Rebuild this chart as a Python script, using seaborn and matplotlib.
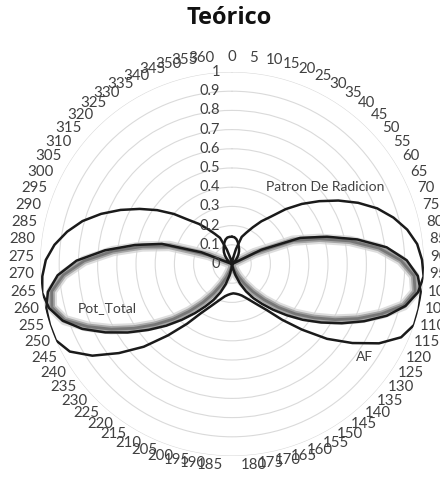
import numpy as np
import pandas as pd
import matplotlib
matplotlib.use("Agg")
import matplotlib.pyplot as plt
import seaborn as sns

# Category labels (degrees) of the radar chart, 0..360 every 5
angulos = list(range(0, 361, 5))

patron = [0, 0.005, 0.03, 0.08, 0.15, 0.18, 0.22, 0.27, 0.32, 0.40, 0.48, 0.56, 0.645,
          0.73, 0.81, 0.875, 0.93, 0.97, 0.99, 1.0, 0.98, 0.93, 0.85, 0.75, 0.65, 0.555,
          0.47, 0.39, 0.32, 0.26, 0.21, 0.16, 0.11, 0.06, 0.025, 0.005, 0,
          0.005, 0.025, 0.06, 0.11, 0.16, 0.21, 0.26, 0.32, 0.39, 0.47, 0.555, 0.65, 0.75,
          0.85, 0.93, 0.98, 1.0, 0.99, 0.97, 0.93, 0.875, 0.81, 0.73, 0.645, 0.56, 0.48,
          0.40, 0.32, 0.27, 0.22, 0.18, 0.15, 0.08, 0.03, 0.005, 0]

af = [0.142, 0.140, 0.132, 0.118, 0.102, 0.088, 0.074, 0.058, 0.042, 0.028, 0.016, 0.006,
      0.0, 0.17, 0.38, 0.515, 0.665, 0.81, 0.91, 0.97, 0.995, 1.0, 1.0, 0.96, 0.87, 0.75,
      0.63, 0.50, 0.39, 0.30, 0.25, 0.215, 0.19, 0.172, 0.162, 0.156, 0.153,
      0.156, 0.162, 0.172, 0.19, 0.215, 0.25, 0.30, 0.39, 0.50, 0.63, 0.75, 0.87, 0.96,
      1.0, 1.0, 0.995, 0.97, 0.91, 0.81, 0.665, 0.515, 0.38, 0.17, 0.0, 0.006, 0.016,
      0.028, 0.042, 0.058, 0.074, 0.088, 0.102, 0.118, 0.132, 0.140, 0.142]

pot_total = [0, 0, 0, 0, 0, 0, 0, 0, 0, 0, 0, 0, 0,
             0.13, 0.34, 0.475, 0.625, 0.77, 0.88, 0.95, 0.965, 0.92, 0.82, 0.715, 0.61,
             0.51, 0.42, 0.33, 0.25, 0.18, 0.12, 0.075, 0.04, 0.015, 0.003, 0, 0,
             0, 0.003, 0.015, 0.04, 0.075, 0.12, 0.18, 0.25, 0.33, 0.42, 0.51, 0.61, 0.715,
             0.82, 0.92, 0.965, 0.95, 0.88, 0.77, 0.625, 0.475, 0.34, 0.13,
             0, 0, 0, 0, 0, 0, 0, 0, 0, 0, 0, 0, 0]

radial_ticks = [0.1, 0.2, 0.3, 0.4, 0.5, 0.6, 0.7, 0.8, 0.9, 1.0]
radial_labels = ["0", "0.1", "0.2", "0.3", "0.4", "0.5", "0.6", "0.7", "0.8", "0.9", "1"]

sns.set_theme(style="white")
plt.rcParams["font.family"] = ["Lato", "DejaVu Sans"]

W, H = 440, 479
fig = plt.figure(figsize=(W / 100, H / 100), dpi=100)
cx, cy, R = 232, 264, 192
ax = fig.add_axes([(cx - R) / W, (H - cy - R) / H, 2 * R / W, 2 * R / H],
                  projection="polar")
ax.set_theta_zero_location("N")
ax.set_theta_direction(-1)

n = len(angulos)
theta = 2 * np.pi * np.arange(n) / n
theta_c = np.append(theta, 2 * np.pi)

df = pd.DataFrame({
    "theta": np.tile(theta_c, 3),
    "r": np.concatenate([np.append(patron, patron[0]),
                         np.append(af, af[0]),
                         np.append(pot_total, pot_total[0])]),
    "serie": ["Patron De Radicion"] * (n + 1) + ["AF"] * (n + 1) + ["Pot_Total"] * (n + 1),
})

# Pot_Total drawn as a soft grey band
pot = df[df.serie == "Pot_Total"]
for lw, col, a in [(7.5, "#cfcfcf", 0.7), (4.5, "#a0a0a0", 0.9), (2.0, "#767676", 1.0)]:
    sns.lineplot(data=pot, x="theta", y="r", sort=False, estimator=None,
                 color=col, lw=lw, alpha=a, ax=ax, legend=False)
for name in ["Patron De Radicion", "AF"]:
    sns.lineplot(data=df[df.serie == name], x="theta", y="r", sort=False,
                 estimator=None, color="#1a1a1a", lw=1.8, ax=ax, legend=False)

ax.set_ylim(0, 1)
ax.set_xlabel("")
ax.set_ylabel("")
ax.set_xticks([])
ax.set_yticks(radial_ticks)
ax.set_yticklabels([])
ax.yaxis.grid(True, color="#dadada", lw=0.8)
ax.spines["polar"].set_visible(False)
ax.set_facecolor("none")

txt_col = "#404040"
for v, lab in zip([0.0] + radial_ticks, radial_labels):
    ax.annotate(lab, xy=(0, v), xytext=(-12, 0), textcoords="offset pixels",
                ha="right", va="center", fontsize=10.5, color=txt_col,
                annotation_clip=False)

# Category labels: anchored just outside the outer ring, aligned away from the centre
for t, lab in zip(theta, angulos):
    s, c = np.sin(t), np.cos(t)
    ha = "center" if abs(s) < 0.01 else ("left" if s > 0 else "right")
    ax.annotate(str(lab), xy=(t, 1.0),
                xytext=(6 * s, 12 * c + 3),
                textcoords="offset pixels", ha=ha, va="center",
                fontsize=10.8, color=txt_col, annotation_clip=False)

fig.text(229 / W, 1 - 18 / H, "Teórico", ha="center", va="center", fontsize=17,
         fontweight="bold", color="#111111", family=["Open Sans", "DejaVu Sans"])
fig.text(325 / W, 1 - 187 / H, "Patron De Radicion", ha="center", va="center",
         fontsize=10, color=txt_col)
fig.text(365 / W, 1 - 357 / H, "AF", ha="center", va="center",
         fontsize=10, color=txt_col)
fig.text(107 / W, 1 - 308 / H, "Pot_Total", ha="center", va="center",
         fontsize=10, color=txt_col)

fig.savefig("out.png", dpi=100, facecolor="white")
